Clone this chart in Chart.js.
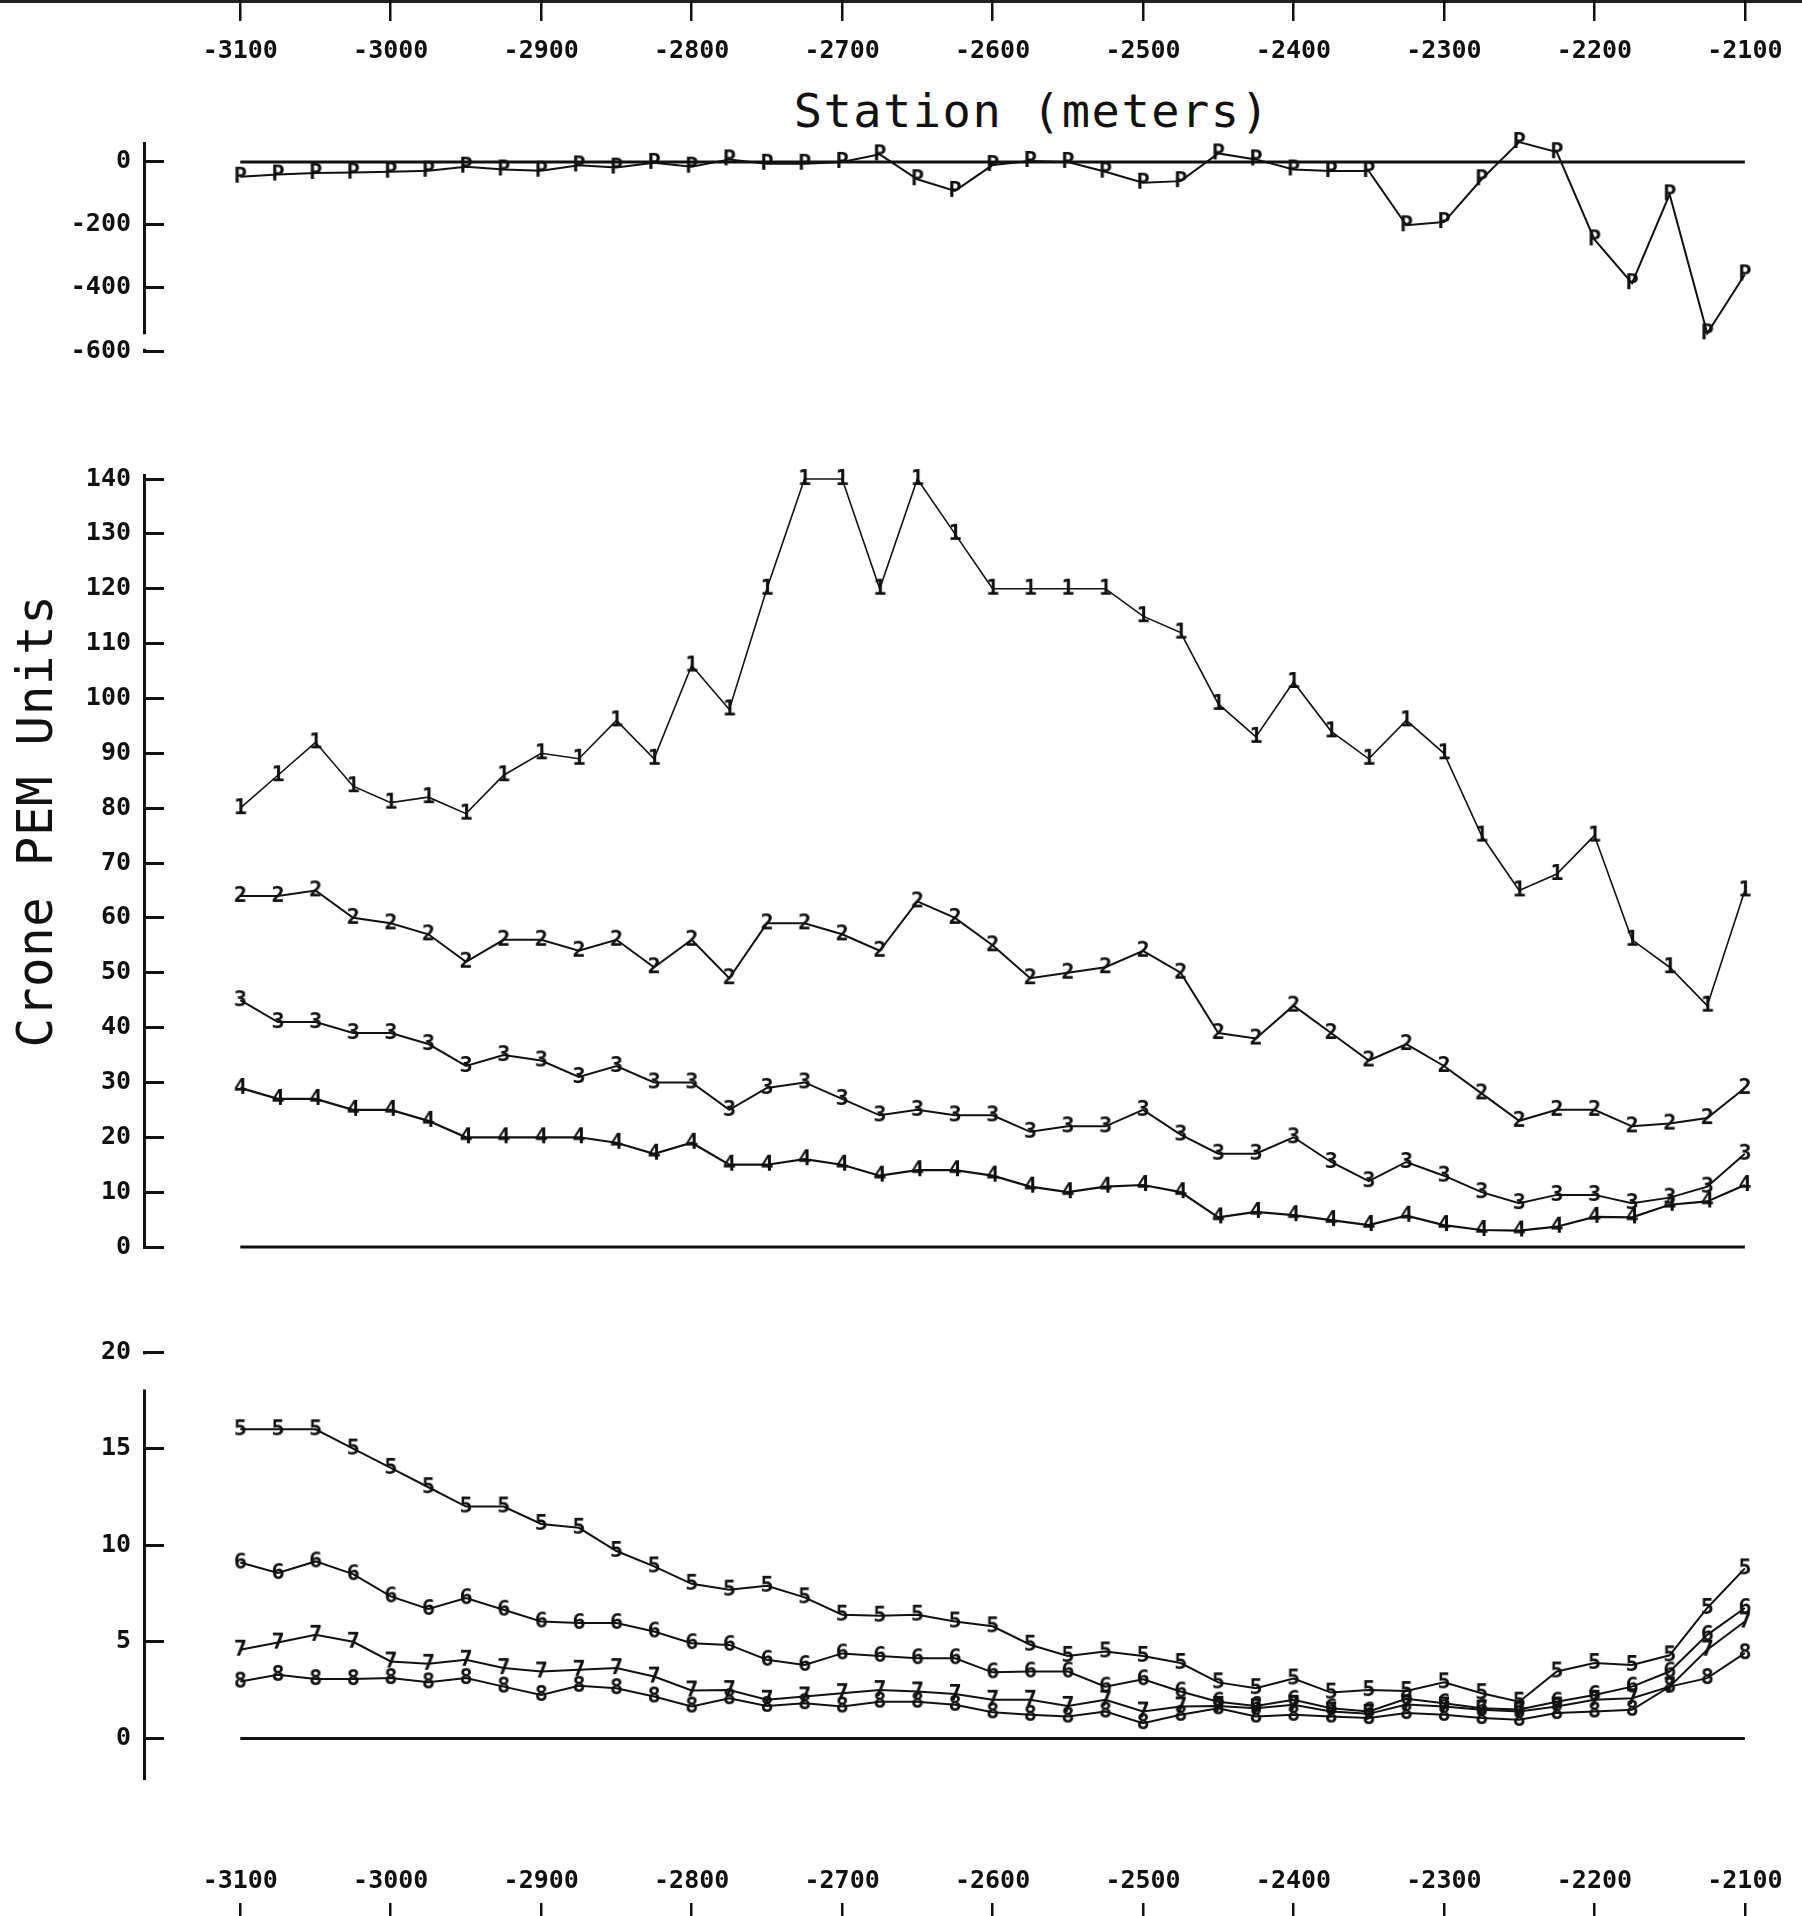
<!DOCTYPE html>
<html>
<head>
<meta charset="utf-8">
<title>Crone PEM profile</title>
<script src="https://cdn.jsdelivr.net/npm/chart.js@4.4.0/dist/chart.umd.min.js"></script>
<style>
  html, body { margin: 0; padding: 0; background: #fff; }
  #page { position: relative; width: 1802px; height: 1916px; overflow: hidden; background: #fff; }
  #page canvas { position: absolute; left: 0; }
  #topline { position: absolute; left: 0; top: 0; width: 1802px; height: 3px; background: #222; }
  #xtitle { position: absolute; left: 0; top: 87px; width: 2064px; text-align: center;
            font: 47px/47px "DejaVu Sans Mono", monospace; letter-spacing: 1.5px; color: #111; white-space: nowrap; }
  #ytitle { position: absolute; left: 35px; top: 821px; transform: translate(-50%, -50%) rotate(-90deg);
            font: 49px/49px "DejaVu Sans Mono", monospace; letter-spacing: 0.7px; color: #111; white-space: nowrap; }
</style>
</head>
<body>
<div id="page">
  <div id="topline"></div>
  <canvas id="axTop" width="1802" height="80" style="top:0px"></canvas>
  <div id="xtitle">Station (meters)</div>
  <div id="ytitle">Crone PEM Units</div>
  <canvas id="panP" width="1802" height="250" style="top:120px"></canvas>
  <canvas id="panMid" width="1802" height="815" style="top:455px"></canvas>
  <canvas id="panLow" width="1802" height="470" style="top:1330px"></canvas>
  <canvas id="axBot" width="1802" height="80" style="top:1836px"></canvas>
</div>
<script>
// stations along the line (meters)
var stations = [-3100, -3075, -3050, -3025, -3000, -2975, -2950, -2925, -2900, -2875,
  -2850, -2825, -2800, -2775, -2750, -2725, -2700, -2675, -2650, -2625,
  -2600, -2575, -2550, -2525, -2500, -2475, -2450, -2425, -2400, -2375,
  -2350, -2325, -2300, -2275, -2250, -2225, -2200, -2175, -2150, -2125, -2100];

var xTicks = [-3100, -3000, -2900, -2800, -2700, -2600, -2500, -2400, -2300, -2200, -2100];
var pTicks = [-600, -400, -200, 0];
var midTicks = [0, 10, 20, 30, 40, 50, 60, 70, 80, 90, 100, 110, 120, 130, 140];
var lowTicks = [0, 5, 10, 15, 20];

// primary field
var chP = [-47, -40, -35, -34, -31, -28, -15, -24, -28, -11, -18, -3, -15, 8, -6, -6, 0, 24, -55, -92,
  -10, 3, 0, -31, -66, -61, 27, 8, -24, -29, -29, -201, -191, -55, 63, 31, -246, -385, -103, -544, -357];

// early channels
var ch1 = [80, 86, 92, 84, 81, 82, 79, 86, 90, 89, 96, 89, 106, 98, 120, 140, 140, 120, 140, 130,
  120, 120, 120, 120, 115, 112, 99, 93, 103, 94, 89, 96, 90, 75, 65, 68, 75, 56, 51, 44, 65];
var ch2 = [64, 64, 65, 60, 59, 57, 52, 56, 56, 54, 56, 51, 56, 49, 59, 59, 57, 54, 63, 60,
  55, 49, 50, 51, 54, 50, 39, 38, 44, 39, 34, 37, 33, 28, 23, 25, 25, 22, 22.5, 23.5, 29];
var ch3 = [45, 41, 41, 39, 39, 37, 33, 35, 34, 31, 33, 30, 30, 25, 29, 30, 27, 24, 25, 24,
  24, 21, 22, 22, 25, 20.5, 17, 17, 20, 15.5, 12, 15.5, 13, 10, 8, 9.5, 9.5, 8, 9, 11, 17];
var ch4 = [29, 27, 27, 25, 25, 23, 20, 20, 20, 20, 19, 17, 19, 15, 15, 16, 15, 13, 14, 14,
  13, 11, 10, 11, 11.3, 10, 5.4, 6.4, 5.8, 4.9, 4, 5.7, 4, 3.1, 3, 3.7, 5.5, 5.4, 7.7, 8.3, 11.3];

// late channels
var ch5 = [16, 16, 16, 15, 14, 13, 12, 12, 11.1, 10.9, 9.7, 8.9, 8.0, 7.7, 7.9, 7.3, 6.4, 6.35, 6.4, 6.05,
  5.8, 4.85, 4.27, 4.5, 4.27, 3.9, 2.9, 2.6, 3.1, 2.37, 2.5, 2.45, 2.9, 2.34, 1.9, 3.46, 3.9, 3.8, 4.3, 6.75, 8.8];
var ch6 = [9.1, 8.56, 9.16, 8.5, 7.35, 6.7, 7.26, 6.66, 6.05, 5.97, 5.97, 5.53, 4.93, 4.84, 4.07, 3.8, 4.4, 4.27, 4.15, 4.15,
  3.42, 3.46, 3.46, 2.68, 3.06, 2.43, 1.9, 1.68, 2.0, 1.56, 1.39, 2.05, 1.82, 1.56, 1.5, 1.9, 2.25, 2.68, 3.46, 5.36, 6.75];
var ch7 = [4.59, 4.96, 5.36, 5.0, 3.98, 3.86, 4.07, 3.64, 3.46, 3.55, 3.64, 3.2, 2.48, 2.5, 2.0, 2.17, 2.34, 2.5, 2.43, 2.3,
  2.0, 2.0, 1.68, 2.0, 1.39, 1.65, 1.68, 1.56, 1.74, 1.39, 1.27, 1.75, 1.65, 1.48, 1.39, 1.65, 2.0, 2.08, 2.68, 4.59, 6.05];
var ch8 = [2.94, 3.29, 3.07, 3.07, 3.12, 2.9, 3.12, 2.68, 2.25, 2.72, 2.6, 2.17, 1.65, 2.08, 1.68, 1.82, 1.65, 1.9, 1.9, 1.74,
  1.35, 1.22, 1.13, 1.39, 0.79, 1.22, 1.56, 1.13, 1.22, 1.13, 1.05, 1.31, 1.22, 1.05, 0.96, 1.31, 1.39, 1.48, 2.68, 3.12, 4.41];

var X_MIN = -3164, X_MAX = -2070;
var INK = "#111";
var tickFont = { family: "DejaVu Sans Mono", size: 25, weight: "bold" };

// plotter style marker: the channel number drawn as the point
function glyph(ch) {
  var c = document.createElement("canvas");
  c.width = 24;
  c.height = 28;
  var g = c.getContext("2d");
  g.fillStyle = INK;
  g.font = 'bold 22px "DejaVu Sans Mono"';
  g.textAlign = "center";
  g.textBaseline = "middle";
  g.fillText(ch, 12, 14);
  return c;
}

function series(vals, ch, width) {
  return {
    data: stations.map(function (s, i) { return { x: s, y: vals[i] }; }),
    borderColor: INK,
    borderWidth: width,
    pointStyle: glyph(ch),
    pointRadius: 6,
    tension: 0,
    clip: false
  };
}

function baseline() {
  return {
    data: [{ x: stations[0], y: 0 }, { x: stations[stations.length - 1], y: 0 }],
    borderColor: INK,
    borderWidth: 3,
    pointRadius: 0,
    clip: false
  };
}

function tickList(list) {
  return function (s) {
    s.ticks = list.map(function (v) { return { value: v }; });
  };
}

// the plotter left a break in the axis line next to the end tick
var axisGap = {
  id: "axisGap",
  afterDraw: function (chart, args, opts) {
    if (opts.from === undefined) return;
    var y = chart.scales.y, ctx = chart.ctx;
    var a = y.getPixelForValue(opts.from), b = y.getPixelForValue(opts.to);
    ctx.save();
    ctx.fillStyle = "#fff";
    ctx.fillRect(y.right - 4, Math.min(a, b), 8, Math.abs(b - a));
    ctx.restore();
  }
};

function panel(id, datasets, yMin, yMax, ticks, padTop, padBottom, gap) {
  return new Chart(document.getElementById(id), {
    type: "line",
    data: { datasets: datasets },
    plugins: [axisGap],
    options: {
      responsive: false,
      animation: false,
      events: [],
      layout: { padding: { left: 0, right: 12, top: padTop, bottom: padBottom } },
      plugins: { legend: { display: false }, tooltip: { enabled: false }, axisGap: gap },
      scales: {
        x: { type: "linear", min: X_MIN, max: X_MAX, display: false },
        y: {
          min: yMin,
          max: yMax,
          afterBuildTicks: tickList(ticks),
          afterFit: function (s) { s.width = 144; s.paddingTop = 0; s.paddingBottom = 0; },
          grid: { drawOnChartArea: false, color: INK, lineWidth: 3, tickLength: -20 },
          border: { color: INK, width: 3 },
          ticks: { color: INK, font: tickFont, padding: 33, callback: function (v) { return String(v); } }
        }
      }
    }
  });
}

function xAxis(id, pos, boxH, pad) {
  return new Chart(document.getElementById(id), {
    type: "line",
    data: { datasets: [] },
    options: {
      responsive: false,
      animation: false,
      events: [],
      layout: { padding: { left: 144, right: 12, top: 0, bottom: 0 } },
      plugins: { legend: { display: false }, tooltip: { enabled: false } },
      scales: {
        x: {
          type: "linear",
          position: pos,
          min: X_MIN,
          max: X_MAX,
          afterBuildTicks: tickList(xTicks),
          afterFit: function (s) { s.height = boxH; s.paddingLeft = 0; s.paddingRight = 0; },
          grid: { drawOnChartArea: true, drawTicks: false, color: INK, lineWidth: 2.5 },
          border: { display: false },
          ticks: { color: INK, font: tickFont, padding: pad, maxRotation: 0, autoSkip: false,
                   callback: function (v) { return String(v); } }
        },
        y: { display: false, min: 0, max: 1 }
      }
    }
  });
}

xAxis("axTop", "bottom", 59, 15);
xAxis("axBot", "top", 67, 7);

panel("panP", [baseline(), series(chP, "P", 2)], -600, 60, pTicks, 23, 19, { from: -547, to: -593 });

panel("panMid", [baseline(), series(ch1, "1", 1.6), series(ch2, "2", 2), series(ch3, "3", 2), series(ch4, "4", 2.2)],
  0, 140.73, midTicks, 20, 23, {});

panel("panLow", [baseline(), series(ch5, "5", 2), series(ch6, "6", 2), series(ch7, "7", 2), series(ch8, "8", 2)],
  -2.05, 20, lowTicks, 22, 22, { from: 19.88, to: 18.06 });
</script>
</body>
</html>
